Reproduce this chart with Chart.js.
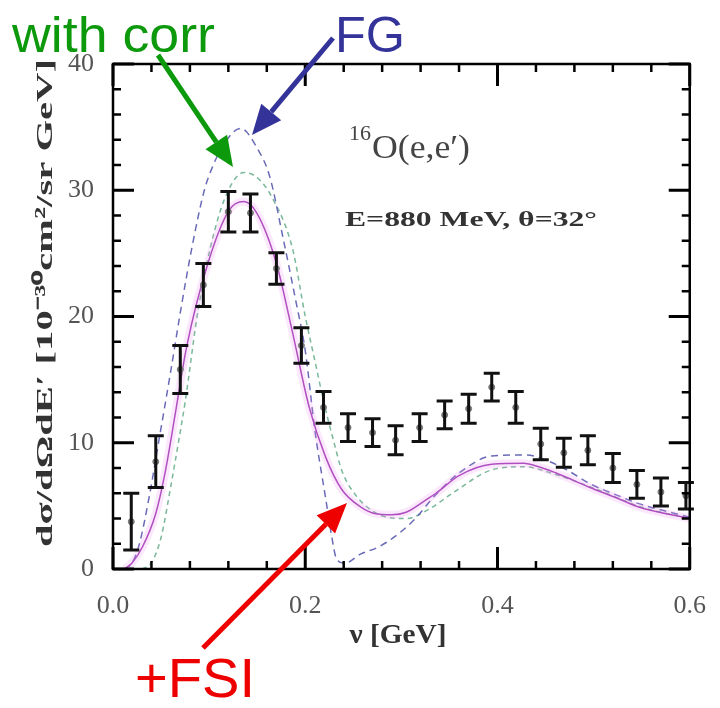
<!DOCTYPE html>
<html lang="en">
  <head>
    <meta charset="UTF-8" />
    <title>16O(e,e') cross section</title>
    <script src="https://cdn.jsdelivr.net/npm/chart.js@4.4.0/dist/chart.umd.min.js"></script>
    <style>
      body { margin: 0; background: #fff; }
    </style>
  </head>
  <body>
    <canvas id="chart" width="720" height="708"></canvas>

    <script>
      // measured points with error bars
      const nuData = [0.019, 0.0445, 0.070, 0.094, 0.120, 0.143, 0.170, 0.196, 0.219, 0.2445, 0.270, 0.294,
        0.319, 0.345, 0.370, 0.394, 0.419, 0.445, 0.469, 0.494, 0.520, 0.545, 0.570, 0.596];
      const sigmaData = [3.75, 8.5, 15.8, 22.5, 28.3, 28.2, 23.8, 17.7, 12.8, 11.2, 10.8, 10.2,
        11.2, 12.2, 12.7, 14.4, 12.8, 9.9, 9.2, 9.4, 8.0, 6.7, 6.1, 5.8];
      const errData = [2.25, 2.05, 1.9, 1.7, 1.6, 1.5, 1.25, 1.4, 1.25, 1.1, 1.1, 1.15,
        1.1, 1.1, 1.15, 1.1, 1.25, 1.25, 1.15, 1.15, 1.15, 1.1, 1.1, 1.05];

      // Fermi gas (dashed blue)
      const fgNu = [0.012, 0.02, 0.0275, 0.0376, 0.0478, 0.0597, 0.07, 0.0817, 0.095, 0.1038, 0.115, 0.1326,
        0.151, 0.163, 0.1767, 0.19, 0.2, 0.21, 0.221, 0.2275, 0.2325, 0.241, 0.258, 0.275, 0.292, 0.312,
        0.336, 0.36, 0.394, 0.43, 0.451, 0.472, 0.495, 0.529, 0.546, 0.6];
      const fgSigma = [0, 0.5, 2.0, 5.7, 10.2, 15.5, 20.3, 25.3, 30.0, 31.9, 33.6, 34.9,
        33.2, 31.1, 26.3, 21.3, 17.3, 11.0, 5.7, 2.6, 0.8, 0.45, 1.2, 1.7, 2.5, 3.8,
        5.9, 7.6, 8.95, 9.03, 8.6, 7.85, 6.8, 5.7, 5.2, 4.1];

      // with correlations (dashed green)
      const corrNu = [0.03, 0.04, 0.05, 0.06, 0.068, 0.075, 0.0885, 0.105, 0.12, 0.136, 0.15, 0.165,
        0.187, 0.2, 0.21, 0.22, 0.23, 0.238, 0.254, 0.27, 0.285, 0.305, 0.33, 0.353, 0.394, 0.427,
        0.46, 0.5, 0.55, 0.6];
      const corrSigma = [0, 0.5, 2.5, 6.5, 10.0, 13.2, 20.5, 26.6, 30.0, 31.4, 31.0, 29.5,
        25.3, 20.0, 16.5, 13.0, 10.0, 7.8, 5.7, 4.6, 4.1, 4.0, 4.8, 6.0, 7.85, 8.1,
        7.5, 6.4, 4.9, 4.0];

      // with final state interactions (solid magenta)
      const fsiNu = [0.012, 0.02, 0.031, 0.0445, 0.0546, 0.0648, 0.0766, 0.0987, 0.1207, 0.136, 0.1495, 0.17,
        0.186, 0.204, 0.221, 0.238, 0.258, 0.272, 0.29, 0.305, 0.326, 0.336, 0.36, 0.394, 0.427,
        0.443, 0.461, 0.495, 0.529, 0.546, 0.6];
      const fsiSigma = [0, 0.5, 1.8, 4.4, 7.8, 12.3, 17.6, 24.2, 28.4, 29.1, 28.2, 24.2,
        19.0, 12.85, 8.9, 6.3, 4.9, 4.4, 4.3, 4.5, 5.5, 6.0, 7.4, 8.3, 8.37,
        8.1, 7.6, 6.5, 5.47, 4.93, 4.0];

      const xTicks = [0, 0.2, 0.4, 0.6];
      const yTicks = [0, 10, 20, 30, 40];

      const pts = (xs, ys) => xs.map((x, i) => ({ x: x, y: ys[i] }));

      function drawText(ctx, text, x, y, width, font, color, align) {
        ctx.save();
        ctx.font = font;
        ctx.fillStyle = color;
        ctx.textBaseline = "alphabetic";
        const w = ctx.measureText(text).width;
        const s = width / w;
        ctx.translate(x, y);
        ctx.scale(s, 1);
        ctx.textAlign = align || "left";
        ctx.fillText(text, 0, 0);
        ctx.restore();
      }

      function arrow(ctx, x0, y0, x1, y1, color) {
        const ang = Math.atan2(y1 - y0, x1 - x0);
        const head = 30, half = 13;
        const bx = x1 - head * Math.cos(ang), by = y1 - head * Math.sin(ang);
        ctx.save();
        ctx.strokeStyle = color;
        ctx.fillStyle = color;
        ctx.lineWidth = 5;
        ctx.beginPath();
        ctx.moveTo(x0, y0);
        ctx.lineTo(bx, by);
        ctx.stroke();
        ctx.beginPath();
        ctx.moveTo(x1, y1);
        ctx.lineTo(bx + half * Math.sin(ang), by - half * Math.cos(ang));
        ctx.lineTo(bx - half * Math.sin(ang), by + half * Math.cos(ang));
        ctx.closePath();
        ctx.fill();
        ctx.restore();
      }

      const framePlugin = {
        id: "frame",
        afterDatasetsDraw(chart) {
          const ctx = chart.ctx;
          const xs = chart.scales.x, ys = chart.scales.y;
          const a = chart.chartArea;

          // error bars
          ctx.save();
          ctx.strokeStyle = "#111";
          ctx.lineWidth = 3;
          for (let i = 0; i < nuData.length; i++) {
            const px = xs.getPixelForValue(nuData[i]);
            const top = ys.getPixelForValue(sigmaData[i] + errData[i]);
            const bot = ys.getPixelForValue(sigmaData[i] - errData[i]);
            ctx.beginPath();
            ctx.moveTo(px, top); ctx.lineTo(px, bot);
            ctx.moveTo(px - 8, top); ctx.lineTo(px + 8, top);
            ctx.moveTo(px - 8, bot); ctx.lineTo(px + 8, bot);
            ctx.stroke();
          }
          ctx.restore();

          // frame and inward ticks on four sides
          ctx.save();
          ctx.strokeStyle = "#000";
          ctx.lineWidth = 2.5;
          ctx.strokeRect(a.left, a.top, a.right - a.left, a.bottom - a.top);
          for (let k = 0; k <= 15; k++) {
            const v = k * 0.04;
            const px = xs.getPixelForValue(v);
            const len = k % 5 === 0 ? 22 : 8;
            ctx.lineWidth = k % 5 === 0 ? 3 : 2.5;
            ctx.beginPath();
            ctx.moveTo(px, a.bottom); ctx.lineTo(px, a.bottom - len);
            ctx.moveTo(px, a.top); ctx.lineTo(px, a.top + len);
            ctx.stroke();
          }
          for (let k = 0; k <= 20; k++) {
            const v = k * 2;
            const py = ys.getPixelForValue(v);
            const len = k % 5 === 0 ? 21 : 8;
            ctx.lineWidth = k % 5 === 0 ? 3 : 2.5;
            ctx.beginPath();
            ctx.moveTo(a.left, py); ctx.lineTo(a.left + len, py);
            ctx.moveTo(a.right, py); ctx.lineTo(a.right - len, py);
            ctx.stroke();
          }
          ctx.restore();
        },
        afterDraw(chart) {
          const ctx = chart.ctx;

          // axis titles
          ctx.save();
          ctx.translate(52, 303);
          ctx.rotate(-Math.PI / 2);
          drawText(ctx, "dσ/dΩdE′ [10⁻³⁰cm²/sr GeV]", 0, 0, 488, "bold 24px 'Liberation Serif'", "#333", "center");
          ctx.restore();
          drawText(ctx, "ν [GeV]", 398, 643, 97, "bold 28px 'Liberation Serif'", "#333", "center");

          // labels inside the frame
          drawText(ctx, "16", 349, 140, 22, "20px 'Liberation Serif'", "#444", "left");
          drawText(ctx, "O(e,e′)", 372, 158, 98, "34px 'Liberation Serif'", "#444", "left");
          drawText(ctx, "E=880 MeV, θ=32°", 345, 226, 252, "bold 22px 'Liberation Serif'", "#333", "left");

          // curve names with arrows
          drawText(ctx, "with corr", 12, 52, 203, "50px 'Liberation Sans'", "#0c990c", "left");
          drawText(ctx, "FG", 335, 52, 70, "50px 'Liberation Sans'", "#333399", "left");
          drawText(ctx, "+FSI", 135, 697, 120, "56px 'Liberation Sans'", "#ee0000", "left");
          arrow(ctx, 158, 55, 233, 167, "#0c990c");
          arrow(ctx, 333, 38, 252, 135, "#333399");
          arrow(ctx, 203, 648, 347, 503, "#ee0000");
        }
      };

      const ctx = document.getElementById("chart").getContext("2d");
      new Chart(ctx, {
        type: "scatter",
        data: {
          datasets: [
            {
              label: "data",
              data: pts(nuData, sigmaData),
              pointRadius: 3,
              pointBackgroundColor: "#777",
              pointBorderColor: "#777",
              showLine: false
            },
            {
              label: "+FSI",
              data: pts(fsiNu, fsiSigma),
              showLine: true,
              borderColor: "#b050c0",
              borderWidth: 1.5,
              pointRadius: 0,
              cubicInterpolationMode: "monotone"
            },
            {
              label: "+FSI halo",
              data: pts(fsiNu, fsiSigma),
              showLine: true,
              borderColor: "rgba(240,150,240,0.22)",
              borderWidth: 8,
              pointRadius: 0,
              cubicInterpolationMode: "monotone"
            },
            {
              label: "FG",
              data: pts(fgNu, fgSigma),
              showLine: true,
              borderColor: "#6a6ab8",
              borderWidth: 1.5,
              borderDash: [7, 5],
              pointRadius: 0,
              cubicInterpolationMode: "monotone"
            },
            {
              label: "with corr",
              data: pts(corrNu, corrSigma),
              showLine: true,
              borderColor: "#7ab89a",
              borderWidth: 1.5,
              borderDash: [5, 4],
              pointRadius: 0,
              cubicInterpolationMode: "monotone"
            }
          ]
        },
        options: {
          responsive: false,
          animation: false,
          layout: { padding: { left: 0, top: 64, right: 17, bottom: 0 } },
          plugins: { legend: { display: false }, tooltip: { enabled: false } },
          scales: {
            x: {
              type: "linear",
              min: 0,
              max: 0.6,
              afterFit: (s) => { s.height = 139; },
              afterBuildTicks: (s) => { s.ticks = xTicks.map((v) => ({ value: v })); },
              grid: { display: false },
              border: { display: false },
              ticks: {
                padding: 14,
                color: "#555",
                font: { family: "'Liberation Serif'", size: 26 },
                callback: (v) => v.toFixed(1)
              }
            },
            y: {
              type: "linear",
              min: 0,
              max: 40,
              afterFit: (s) => { s.width = 113; },
              afterBuildTicks: (s) => { s.ticks = yTicks.map((v) => ({ value: v })); },
              grid: { display: false },
              border: { display: false },
              ticks: {
                padding: 11,
                color: "#555",
                font: { family: "'Liberation Serif'", size: 26 }
              }
            }
          }
        },
        plugins: [framePlugin]
      });
    </script>
  </body>
</html>
